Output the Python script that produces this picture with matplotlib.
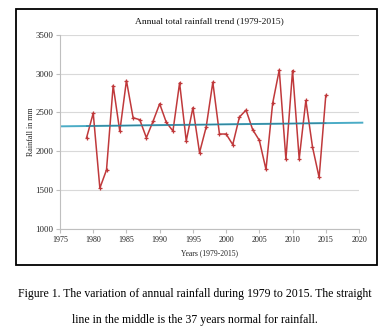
import matplotlib
matplotlib.use("Agg")
import matplotlib.pyplot as plt
import numpy as np
from matplotlib.patches import Rectangle

years = list(range(1979, 2016))
rainfall = [2175, 2491, 1526, 1761, 2846, 2257, 2910, 2432, 2406, 2175,
            2385, 2611, 2372, 2261, 2880, 2133, 2560, 1983, 2312, 2889,
            2222, 2222, 2086, 2440, 2530, 2278, 2141, 1766, 2615, 3047,
            1898, 3038, 1902, 2654, 2056, 1663, 2718]
trend_x = [1975.2, 2020.5]
trend_y = [2321, 2368]

x_ticks = list(range(1975, 2021, 5))
y_ticks = list(range(1000, 3501, 500))

plt.rcParams['font.family'] = ['Liberation Serif', 'DejaVu Serif']

fig = plt.figure(figsize=(3.9, 3.27), dpi=100)
fig.patch.set_facecolor('white')

# outer frame
fig.patches.append(Rectangle((16/390, 1-265/327), (377-16)/390, (265-9)/327,
                             transform=fig.transFigure, fill=False,
                             edgecolor='black', linewidth=1.3))

ax = fig.add_axes([60/390, 1-229/327, (359-60)/390, (229-34.7)/327])
ax.set_xlim(1975, 2020)
ax.set_ylim(1000, 3500)
ax.set_xticks(x_ticks)
ax.set_yticks(y_ticks)
ax.grid(axis='y', color='#d9d9d9', linewidth=0.8)
ax.set_axisbelow(True)
for s in ['top', 'right']:
    ax.spines[s].set_visible(False)
for s in ['left', 'bottom']:
    ax.spines[s].set_color('#bfbfbf')
    ax.spines[s].set_linewidth(0.8)
ax.tick_params(axis='both', colors='#bfbfbf', labelcolor='#222222',
               length=3, width=0.8, pad=2)
ax.tick_params(axis='y', labelsize=6.3)
ax.tick_params(axis='x', labelsize=5.8)

ax.plot(trend_x, trend_y, color='#4bacc6', linewidth=1.4, clip_on=False, zorder=2)
ax.plot(years, rainfall, color='#c0393b', linewidth=1.1, marker='+',
        markersize=3, markeredgewidth=0.9, zorder=3)
# overlay of trend across data range
fit = np.polyfit(trend_x, trend_y, 1)
ax.plot([years[0], years[-1]], np.polyval(fit, [years[0], years[-1]]),
        color='#31849b', linewidth=0.8, zorder=4)

ax.set_title('Annual total rainfall trend (1979-2015)', fontsize=6.8, pad=8,
             color='#111111')
ax.set_ylabel('Rainfall in mm', fontsize=5.8, color='#222222')
ax.yaxis.set_label_coords(-0.097, 0.5)
ax.set_xlabel('Years (1979-2015)', fontsize=5.5, color='#222222')
ax.xaxis.set_label_coords(0.5, -0.124)
ax.xaxis.label.set_va('center')
ax.yaxis.label.set_va('center')

fig.text(0.5, 1-294/327,
         'Figure 1. The variation of annual rainfall during 1979 to 2015. The straight',
         ha='center', va='center', fontsize=8.5)
fig.text(0.5, 1-320/327,
         'line in the middle is the 37 years normal for rainfall.',
         ha='center', va='center', fontsize=8.5)

fig.savefig('out.png', dpi=100)
